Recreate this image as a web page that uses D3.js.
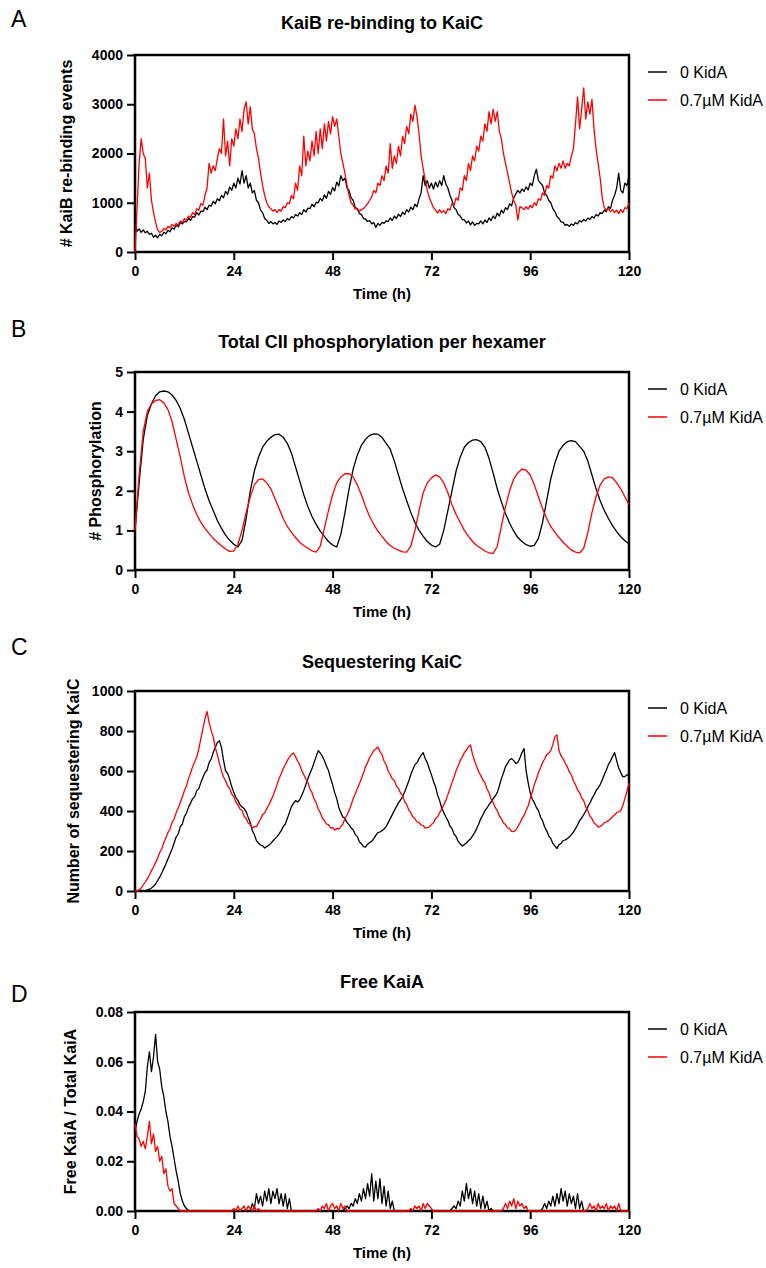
<!DOCTYPE html>
<html>
<head>
<meta charset="UTF-8">
<script src="https://d3js.org/d3.v7.min.js"></script>
<style>
body { margin: 0; background: #fff; }
svg text { font-family: "Liberation Sans", Arial, sans-serif; fill: #000; }
.tick text { font-weight: bold; font-size: 14px; }
.tick line { stroke: #000; stroke-width: 2; }
.data { fill: none; stroke-width: 1.3; stroke-linejoin: round; }
</style>
</head>
<body>
<div id="chart"></div>
<script>
// sample grids (hours)
var hours = d3.range(0, 121, 1);
var halfHours = d3.range(0, 120.5, 0.5);
var timeTicks = [0, 24, 48, 72, 96, 120];
var seriesNames = ["0 KidA", "0.7\u00b5M KidA"];
var seriesColors = ["#000000", "#ff0000"];

// A: KaiB re-binding events, every 0.5 h
var rebindBlack = [
  620,420,470,400,450,390,420,360,380,300, 340,290,360,330,400,370,440,410,490,460,
  550,510,600,570,620,610,690,640,720,710, 800,750,830,820,910,860,950,930,1030,980,
  1080,1040,1150,1100,1230,1170,1320,1250,1400,1300, 1500,1380,1650,1400,1550,1300,1400,1200,1250,1050,
  1000,850,800,680,640,580,620,570,600,560, 630,600,650,620,680,650,720,690,760,730,
  800,760,860,810,890,880,970,920,1010,1000, 1090,1040,1160,1090,1230,1170,1310,1240,1420,1340,
  1550,1450,1500,1300,1250,1100,1050,900,880,780, 760,680,670,620,640,570,600,500,580,540,
  600,580,630,620,690,640,730,680,770,720, 810,760,860,810,910,860,970,920,1080,1200,
  1550,1350,1450,1300,1400,1280,1420,1320,1450,1350, 1550,1380,1300,1150,1050,900,860,760,730,660,
  650,590,630,550,610,540,580,570,630,570, 650,600,690,640,730,680,790,730,850,790,
  900,860,980,940,1100,1180,1250,1200,1280,1230, 1320,1260,1400,1350,1550,1680,1450,1400,1350,1200,
  1150,1050,1000,880,820,720,680,610,600,540, 560,520,570,540,600,570,640,610,660,630,
  690,660,720,690,760,730,800,780,850,820, 920,880,1050,1150,1300,1600,1250,1200,1400,1350,
  1550
];
var rebindRed = [
  0,900,1800,2300,2000,1900,1300,1600,1050,800, 600,450,400,420,480,450,520,490,560,520,
  580,550,630,600,680,640,730,700,800,760, 880,850,980,950,1150,1300,1800,1600,1750,1650,
  1900,2100,2000,2700,1950,2250,1750,2300,2150,2500, 2300,2700,2450,2900,3050,2600,2950,2500,2400,2100,
  1900,1600,1350,1150,1000,920,880,830,860,800, 860,830,920,900,1000,980,1150,1080,1400,1250,
  1750,1550,2350,1750,2050,1850,2250,1950,2450,2000, 2500,2100,2600,2250,2650,2400,2750,2550,2700,2350,
  2000,1800,1600,1350,1150,1000,950,870,880,830, 860,880,930,980,1050,1120,1250,1200,1400,1350,
  1550,1450,1750,1600,2200,1700,1950,1800,2150,1950, 2350,2200,2550,2400,2800,2650,2980,2750,2400,1950,
  1700,1450,1250,1100,1000,900,850,790,860,800, 840,780,880,850,980,950,1100,1050,1300,1250,
  1550,1450,1800,1650,1950,1850,2150,2050,2350,2250, 2600,2450,2850,2600,2900,2650,2850,2450,2300,2000,
  1800,1600,1400,1200,1050,950,650,920,900,860, 920,870,950,900,1000,950,1080,1050,1200,1150,
  1350,1300,1550,1500,1750,1650,1800,1700,1850,1700, 1800,1750,1950,2100,2600,3150,2500,2900,3330,2700,
  3050,2800,3100,2500,2100,1800,1500,1100,900,850, 880,820,860,800,850,780,860,800,900,880,
  1000
];

// B: total CII phosphorylation per hexamer, every 1 h
var phosBlack = [
  1.0,2.2,3.3,3.9,4.2,4.4,4.5,4.52,4.5,4.42, 4.28,4.08,3.8,3.45,3.1,2.75,2.4,2.05,1.75,1.5,
  1.25,1.05,0.88,0.75,0.65,0.58,0.75,1.3,2.0,2.5, 2.85,3.1,3.25,3.35,3.42,3.43,3.35,3.2,2.95,2.6,
  2.25,1.9,1.6,1.35,1.15,0.98,0.85,0.72,0.63,0.58, 0.9,1.45,2.05,2.55,2.9,3.15,3.3,3.4,3.44,3.43,
  3.35,3.2,3.05,2.75,2.4,2.05,1.75,1.45,1.2,1.0, 0.85,0.72,0.63,0.58,0.65,1.0,1.5,2.0,2.5,2.85,
  3.1,3.22,3.28,3.29,3.24,3.1,2.82,2.45,2.05,1.72, 1.42,1.18,0.98,0.82,0.72,0.64,0.6,0.62,0.8,1.2,
  1.75,2.3,2.7,3.0,3.15,3.24,3.27,3.24,3.12,3.0, 2.75,2.4,2.05,1.75,1.5,1.3,1.12,0.97,0.84,0.74,
  0.66
];
var phosRed = [
  1.0,2.4,3.5,4.0,4.2,4.28,4.3,4.22,4.05,3.75, 3.3,2.85,2.35,1.95,1.65,1.4,1.2,1.05,0.92,0.8,
  0.7,0.61,0.53,0.47,0.48,0.65,1.0,1.45,1.85,2.15, 2.28,2.3,2.2,2.05,1.8,1.55,1.3,1.1,0.95,0.82,
  0.7,0.62,0.55,0.48,0.45,0.6,1.05,1.5,1.9,2.2, 2.35,2.43,2.43,2.35,2.15,1.9,1.6,1.35,1.15,0.98,
  0.85,0.72,0.62,0.55,0.5,0.46,0.45,0.6,1.0,1.5, 1.95,2.2,2.32,2.4,2.35,2.2,1.95,1.65,1.4,1.2,
  1.0,0.85,0.72,0.62,0.55,0.48,0.43,0.42,0.6,1.1, 1.6,2.0,2.3,2.45,2.55,2.52,2.4,2.15,1.85,1.55,
  1.3,1.1,0.95,0.82,0.7,0.6,0.5,0.45,0.43,0.55, 0.95,1.45,1.85,2.15,2.3,2.35,2.33,2.2,2.05,1.85,
  1.65
];

// C: number of sequestering KaiC, every 0.5 h
var seqBlack = [
  0,0,0,0,0,2,5,9,15,24, 35,52,70,90,112,135,160,185,210,240,
  270,285,322,335,372,390,418,440,462,472, 502,512,542,568,592,605,642,660,692,718,
  742,752,718,655,600,588,558,522,492,468, 452,432,420,412,396,368,342,302,282,252,
  240,230,226,215,222,228,238,250,262,272, 286,302,322,335,362,392,422,438,452,445,
  456,478,502,532,562,588,612,642,672,702, 690,675,652,625,602,565,532,492,462,418,
  392,370,362,342,332,315,306,282,272,246, 236,222,220,234,242,248,262,278,292,295,
  302,310,322,342,362,382,402,422,442,455, 472,495,522,550,582,608,632,642,662,678,
  692,662,642,610,582,548,522,480,452,415, 392,370,352,325,312,285,272,248,236,225,
  232,240,252,260,276,292,312,335,362,380, 402,415,432,445,462,475,492,525,562,590,
  622,638,656,662,652,638,642,665,692,712, 602,542,492,460,442,418,402,370,352,320,
  302,275,262,238,226,212,232,238,252,255, 262,270,282,295,312,330,352,365,382,400,
  422,440,462,480,502,515,532,555,582,605, 632,650,672,692,652,615,592,572,572,582,
  572
];
var seqRed = [
  0,0,5,15,30,45,62,80,102,120, 142,165,192,210,242,265,292,310,342,360,
  392,415,442,470,502,525,562,590,622,645, 672,710,762,812,862,898,842,802,772,718,
  682,638,602,570,552,525,512,485,472,445, 432,410,402,375,362,340,332,315,322,322,
  342,360,382,390,412,430,452,475,502,532, 562,585,612,630,652,670,682,690,672,650,
  632,602,582,560,542,510,492,460,442,410, 392,365,352,335,332,315,317,305,312,310,
  322,335,362,380,402,430,462,485,512,535, 562,590,622,642,667,685,702,710,720,698,
  682,650,632,600,582,560,552,525,512,490, 477,448,432,405,392,370,362,345,342,330,
  327,315,317,320,332,340,362,370,392,408, 432,452,482,510,542,570,602,625,652,670,
  692,705,722,730,682,650,622,595,577,555, 542,510,492,460,442,418,402,375,362,340,
  332,315,312,298,297,305,322,340,362,378, 402,425,462,495,532,560,592,615,642,660,
  682,688,702,732,772,780,702,675,662,640, 622,595,582,550,532,505,492,465,452,420,
  402,375,362,340,332,320,322,330,342,345, 352,360,372,380,392,395,402,428,462,498,
  540
];

// D: free KaiA / total KaiA, every 0.5 h
var freeBlack = [
  0.032,0.036,0.039,0.041,0.044,0.048,0.058,0.064,0.056,0.062, 0.071,0.060,0.057,0.050,0.046,0.040,0.036,0.030,0.026,0.021,
  0.016,0.012,0.007,0.004,0.002,0.001,0,0,0,0, 0,0,0,0,0,0,0,0,0,0,
  0,0,0,0,0,0,0,0,0,0, 0,0,0,0,0,0,0,0.003,0.001,0.007,
  0.003,0.006,0.002,0.008,0.004,0.009,0.003,0.008,0.005,0.009, 0.003,0.007,0.002,0.007,0.001,0.005,0,0,0,0,
  0,0,0,0,0,0,0,0,0,0, 0,0,0,0,0,0,0,0,0,0,
  0,0,0.001,0.002,0.001,0.003,0.002,0.005,0.003,0.007, 0.004,0.009,0.005,0.011,0.006,0.015,0.004,0.012,0.005,0.013,
  0.003,0.010,0.002,0.008,0.001,0.004,0,0,0,0, 0,0,0,0,0,0,0,0,0,0,
  0,0,0,0,0,0,0,0,0,0, 0,0,0,0,0.001,0.002,0.001,0.004,0.002,0.008,
  0.004,0.011,0.005,0.009,0.003,0.008,0.002,0.007,0.001,0.006, 0.001,0.004,0,0.001,0,0,0,0,0,0,
  0,0,0,0,0,0,0,0,0,0, 0,0,0,0,0,0,0,0,0.001,0.003,
  0.001,0.004,0.002,0.006,0.002,0.007,0.003,0.009,0.004,0.008, 0.002,0.007,0.003,0.006,0.001,0.007,0.001,0.004,0,0,
  0,0,0,0,0,0,0,0,0,0, 0,0,0,0,0,0,0,0,0,0,
  0
];
var freeRed = [
  0.035,0.030,0.029,0.026,0.028,0.025,0.030,0.036,0.027,0.031, 0.024,0.026,0.020,0.022,0.015,0.017,0.010,0.008,0.009,0.003,
  0.002,0.001,0,0,0,0,0,0,0,0, 0,0,0,0,0,0,0,0,0,0,
  0,0,0,0,0,0,0,0,0.001,0, 0.002,0,0.001,0.002,0,0.002,0.001,0,0.002,0,
  0.001,0,0,0,0,0,0,0,0,0, 0,0,0,0,0,0,0,0,0,0,
  0,0,0,0,0,0,0,0,0,0.001, 0,0.002,0.001,0.003,0,0.002,0.003,0.001,0.002,0,
  0.003,0.001,0.002,0,0,0,0,0,0,0, 0,0,0,0,0,0,0,0,0,0,
  0,0,0,0,0,0,0,0,0,0, 0,0,0,0,0.001,0,0.002,0.001,0.002,0,
  0.003,0.001,0.003,0.002,0.001,0,0,0,0,0, 0,0,0,0,0,0,0,0,0,0,
  0,0,0,0,0,0,0,0,0,0, 0,0,0,0,0,0,0,0,0,0.001,
  0.003,0.001,0.004,0.002,0.005,0.001,0.004,0.002,0.003,0.001, 0.002,0,0,0,0,0,0,0,0,0,
  0,0,0,0,0,0,0,0,0,0, 0,0,0,0,0,0,0,0,0,0,
  0.001,0.003,0.001,0.002,0,0.003,0.001,0.002,0.001,0.003, 0,0.002,0.001,0.002,0,0.003,0,0,0,0,
  0
];

var panels = [
  {letter: "A", title: "KaiB re-binding to KaiC", yLabel: "# KaiB re-binding events",
   domain: [0, 4000], ticks: [0, 1000, 2000, 3000, 4000], fmt: d3.format("d"),
   top: 55, bottom: 252, letterY: 27, titleY: 29, yLabelX: 66,
   times: halfHours, series: [rebindBlack, rebindRed]},
  {letter: "B", title: "Total CII phosphorylation per hexamer", yLabel: "# Phosphorylation",
   domain: [0, 5], ticks: [0, 1, 2, 3, 4, 5], fmt: d3.format("d"),
   top: 372, bottom: 570, letterY: 337, titleY: 348, yLabelX: 95,
   times: hours, series: [phosBlack, phosRed]},
  {letter: "C", title: "Sequestering KaiC", yLabel: "Number of sequestering KaiC",
   domain: [0, 1000], ticks: [0, 200, 400, 600, 800, 1000], fmt: d3.format("d"),
   top: 691, bottom: 891, letterY: 655, titleY: 668, yLabelX: 73,
   times: halfHours, series: [seqBlack, seqRed]},
  {letter: "D", title: "Free KaiA", yLabel: "Free KaiA / Total KaiA",
   domain: [0, 0.08], ticks: [0, 0.02, 0.04, 0.06, 0.08], fmt: d3.format(".2f"),
   top: 1012, bottom: 1211, letterY: 1002, titleY: 988, yLabelX: 70,
   times: halfHours, series: [freeBlack, freeRed]}
];

var svg = d3.select("#chart").append("svg")
    .attr("width", 766)
    .attr("height", 1268);

var x = d3.scaleLinear().domain([0, 120]).range([135, 629]);

panels.forEach(function(p) {
  var y = d3.scaleLinear().domain(p.domain).range([p.bottom, p.top]);
  var g = svg.append("g");

  g.append("text")
    .attr("x", 11).attr("y", p.letterY)
    .style("font-size", "23px")
    .text(p.letter);

  g.append("text")
    .attr("x", 382).attr("y", p.titleY)
    .attr("text-anchor", "middle")
    .style("font-size", "18px").style("font-weight", "bold")
    .text(p.title);

  // axes with outward ticks
  var yAxis = g.append("g")
    .attr("transform", "translate(" + x.range()[0] + ",0)")
    .call(d3.axisLeft(y).tickValues(p.ticks).tickFormat(p.fmt).tickSize(8).tickSizeOuter(0).tickPadding(4));
  var xAxis = g.append("g")
    .attr("transform", "translate(0," + p.bottom + ")")
    .call(d3.axisBottom(x).tickValues(timeTicks).tickSize(8).tickSizeOuter(0).tickPadding(6));
  yAxis.select(".domain").remove();
  xAxis.select(".domain").remove();

  // box frame
  g.append("rect")
    .attr("x", x.range()[0]).attr("y", p.top)
    .attr("width", x.range()[1] - x.range()[0])
    .attr("height", p.bottom - p.top)
    .attr("fill", "none").attr("stroke", "#000").attr("stroke-width", 2.5);

  // data lines
  p.series.forEach(function(vals, k) {
    var line = d3.line()
      .x(function(d, i) { return x(p.times[i]); })
      .y(function(d) { return y(d); });
    g.append("path")
      .datum(vals)
      .attr("class", "data")
      .attr("stroke", seriesColors[k])
      .attr("d", line);
  });

  // axis titles
  g.append("text")
    .attr("transform", "rotate(-90)")
    .attr("x", -(p.top + p.bottom) / 2).attr("y", p.yLabelX)
    .attr("dy", "0.35em")
    .attr("text-anchor", "middle")
    .style("font-size", "16px").style("font-weight", "bold")
    .text(p.yLabel);

  g.append("text")
    .attr("x", 382).attr("y", p.bottom + 47)
    .attr("text-anchor", "middle")
    .style("font-size", "15px").style("font-weight", "bold")
    .text("Time (h)");

  // legend
  seriesNames.forEach(function(name, k) {
    var ly = p.top + 17 + k * 28;
    g.append("line")
      .attr("x1", 648).attr("x2", 667)
      .attr("y1", ly).attr("y2", ly)
      .attr("stroke", seriesColors[k]).attr("stroke-width", 1.5);
    g.append("text")
      .attr("x", 680).attr("y", ly).attr("dy", "0.35em")
      .style("font-size", "16px")
      .text(name);
  });
});
</script>
</body>
</html>
